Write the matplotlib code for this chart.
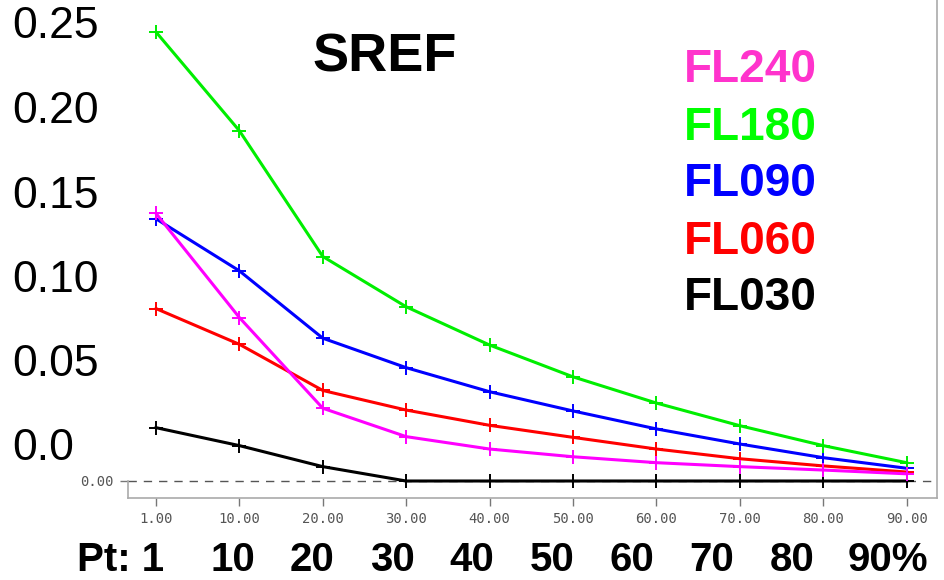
import matplotlib
matplotlib.use("Agg")
import matplotlib.pyplot as plt

# percentile points (category positions on x)
points = ["1.00", "10.00", "20.00", "30.00", "40.00", "50.00", "60.00", "70.00", "80.00", "90.00"]
bottom_labels = ["Pt: 1", "10", "20", "30", "40", "50", "60", "70", "80", "90%"]
big_ylabels = ["0.25", "0.20", "0.15", "0.10", "0.05", "0.0"]

fl240 = [0.149, 0.091, 0.0405, 0.0247, 0.0178, 0.0135, 0.0102, 0.0080, 0.0061, 0.0040]
fl180 = [0.250, 0.195, 0.125, 0.097, 0.0757, 0.058, 0.0434, 0.0308, 0.0197, 0.0102]
fl090 = [0.146, 0.117, 0.0795, 0.0631, 0.0497, 0.039, 0.029, 0.0206, 0.013, 0.0071]
fl060 = [0.096, 0.0761, 0.0504, 0.0395, 0.031, 0.0243, 0.0178, 0.0124, 0.0084, 0.005]
fl030 = [0.0297, 0.0197, 0.008, 0.0, 0.0, 0.0, 0.0, 0.0, 0.0, 0.0]

series = [
    ("FL030", fl030, "black"),
    ("FL060", fl060, "#ff0000"),
    ("FL090", fl090, "#0000ff"),
    ("FL180", fl180, "#00ee00"),
    ("FL240", fl240, "#ff00ff"),
]
legend_order = [("FL240", "#ff33cc"), ("FL180", "#00ff00"), ("FL090", "#0000ff"),
                ("FL060", "#ff0000"), ("FL030", "black")]

W, H = 944, 580
fig = plt.figure(figsize=(W / 100, H / 100), dpi=100)
ax = fig.add_axes([128 / W, (H - 498) / H, (937 - 128) / W, 498 / H])

x = list(range(len(points)))
for name, vals, color in series:
    ax.plot(x, vals, color=color, lw=2.2, marker="+", ms=10, mew=1.4, zorder=3)

ax.axhline(0, color="#555555", lw=1, ls=(0, (6, 5)), zorder=1)

k = 0.25 / 449
ax.set_ylim(-17 * k, 481 * k)
ax.set_xlim(-28 / 83.4, (937 - 156) / 83.4)

ax.set_xticks(x)
ax.set_xticklabels(points, family="DejaVu Sans Mono", fontsize=10, color="#555555")
ax.set_yticks([0])
ax.set_yticklabels(["0.00"], family="DejaVu Sans Mono", fontsize=10, color="#555555")
ax.tick_params(direction="out", length=6, color="#777777", width=1, pad=4)

ax.spines["top"].set_visible(False)
for s in ("left", "right", "bottom"):
    ax.spines[s].set_color("#aaaaaa")
    ax.spines[s].set_linewidth(1.2)
ax.spines["left"].set_bounds(-17 * k, 0)

font = ["Liberation Sans", "DejaVu Sans"]

# big overlay y labels
label_y = [26, 112, 196, 281, 364, 449]
for lab, py in zip(big_ylabels, label_y):
    fig.text(12 / W, 1 - py / H, lab, fontsize=32, family=font, va="center", ha="left")

fig.text(385 / W, 1 - 57 / H, "SREF", fontsize=39, family=font, weight="bold",
         va="center", ha="center")

leg_y = [70, 128, 184, 242, 298]
for (name, color), py in zip(legend_order, leg_y):
    fig.text(684 / W, 1 - py / H, name, fontsize=33, family=font, weight="bold",
             color=color, va="center", ha="left")

bottom_x = [121, 233, 312, 392, 472, 552, 632, 712, 792, 888]
for lab, px in zip(bottom_labels, bottom_x):
    fig.text(px / W, 1 - 560 / H, lab, fontsize=29, family=font, weight="bold",
             va="center", ha="center")

fig.savefig("out.png", dpi=100)
